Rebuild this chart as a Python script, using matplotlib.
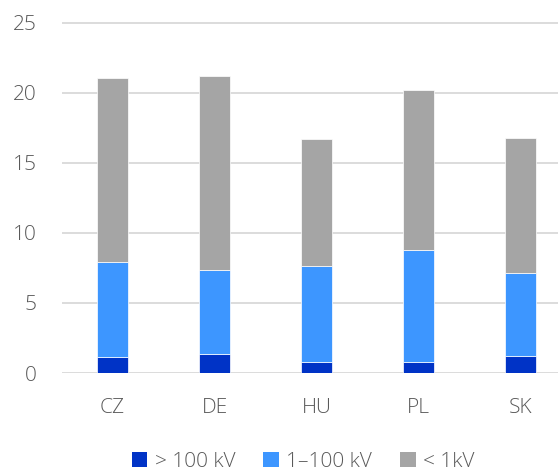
import numpy as np
import matplotlib.pyplot as plt
from matplotlib.patches import Patch

# Network length share by voltage level (stacked)
COUNTRIES = ['CZ', 'DE', 'HU', 'PL', 'SK']
HIGH_V = [1.14, 1.33, 0.76, 0.81, 1.21]     # > 100 kV
MID_V = [6.79, 6.05, 6.91, 8.00, 5.96]      # 1-100 kV
LOW_V = [13.14, 13.86, 9.02, 11.43, 9.62]   # < 1 kV
SERIES_LABELS = ['> 100 kV', '1\u2013100 kV', '< 1kV']

COLORS = ['#0033C6', '#3D96FF', '#A5A5A5']
TEXT = '#595959'
GRID = '#D9D9D9'

plt.rcParams['font.family'] = ['Open Sans', 'DejaVu Sans']
plt.rcParams['font.weight'] = 'light'

W, H = 558, 473
fig = plt.figure(figsize=(W / 100, H / 100), dpi=100)
# axes spans 510 px per 5 categories; right part runs past the canvas edge
ax = fig.add_axes([61.5 / W, (H - 373) / H, 510 / W, 351.4 / H])

x = np.arange(len(COUNTRIES))
bottom = np.zeros(len(COUNTRIES))
for vals, col in zip([HIGH_V, MID_V, LOW_V], COLORS):
    ax.bar(x, vals, bottom=bottom, width=0.31, color=col,
           edgecolor='white', linewidth=0.5, zorder=3)
    bottom += np.array(vals)

ax.set_xlim(-0.5, len(COUNTRIES) - 0.5)
ax.set_ylim(0, 25.1)
ax.set_yticks(range(0, 26, 5))
ax.yaxis.grid(True, color=GRID, linewidth=1.3, zorder=0)
ax.set_axisbelow(True)
for s in ax.spines.values():
    s.set_visible(False)
ax.tick_params(axis='both', length=0, colors=TEXT, labelsize=15)
ax.tick_params(axis='y', pad=18)
ax.tick_params(axis='x', pad=18)
ax.set_xticks(x)
ax.set_xticklabels(COUNTRIES)

handles = [Patch(facecolor=c, edgecolor='none') for c in COLORS]
fig.legend(handles, SERIES_LABELS, loc='center', ncol=3,
           bbox_to_anchor=(303 / W, 1 - 462 / H), frameon=False,
           fontsize=15, labelcolor=TEXT, handlelength=0.75, handleheight=0.75,
           handletextpad=0.35, columnspacing=1.35)

fig.savefig('out.png', dpi=100)
